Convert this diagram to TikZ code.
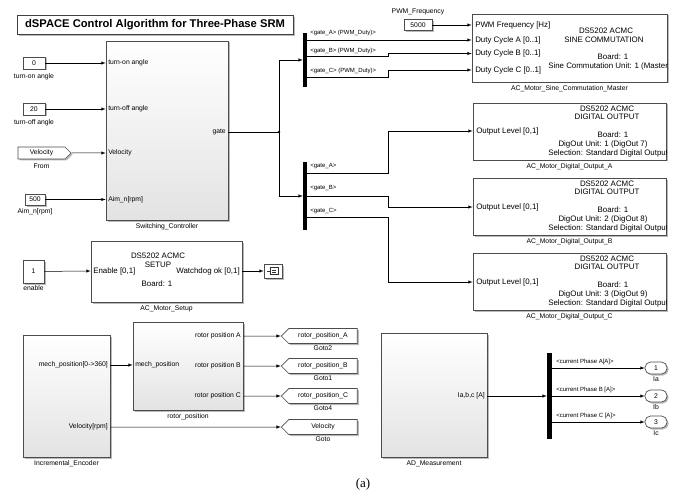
\documentclass[tikz,border=0pt]{standalone}
\usepackage{fontspec}
\setmainfont{Liberation Serif}
\setsansfont{Liberation Sans}
\usepackage{tikz}
\usetikzlibrary{positioning}
\usetikzlibrary{shapes.symbols,shadows}

\newcommand{\lbl}{\sffamily\fontsize{6.8}{7.8}\selectfont}
\newcommand{\dsf}{\sffamily\fontsize{7.9}{9}\selectfont}
\newcommand{\busf}{\sffamily\fontsize{6}{7}\selectfont}

\begin{document}
\begin{tikzpicture}[x=1pt, y=-1pt, >=latex, line width=0.5pt,
    every node/.style = {inner sep=1pt, font=\lbl},
    blk/.style = {draw=gray!60!black, fill=white, line width=0.7pt,
      drop shadow={shadow xshift=1.5pt, shadow yshift=-1.5pt, fill=gray!55, opacity=1}},
    sub/.style = {blk, top color=white, bottom color=gray!22},
    const/.style = {blk, minimum width=22pt, minimum height=12pt},
    bus/.style = {fill=black, minimum width=4pt, inner sep=0pt},
    goto/.style = {blk, signal, signal to=west, minimum width=76pt, minimum height=15pt, inner sep=2pt},
    outp/.style = {blk, rounded corners=5.5pt, minimum width=22pt, minimum height=12pt}
    ]
    \useasboundingbox (0,0) rectangle (679,497);

    \node (title) [blk, draw=gray!50!black, line width=1pt, minimum width=276pt, minimum height=19pt,
      font=\sffamily\bfseries\fontsize{11.2}{13}\selectfont] at (155,25) {dSPACE Control Algorithm for Three-Phase SRM};

    \node (sw) [sub, minimum width=122pt, minimum height=179pt] at (167,130.5) {};
    \node (sw name) [below=2pt of sw] {Switching\_Controller};
    \node (sw on) [anchor=west] at (107,63) {turn-on angle};
    \node (sw off) [anchor=west] at (107,109) {turn-off angle};
    \node (sw vel) [anchor=west] at (107,153) {Velocity};
    \node (sw aim) [anchor=west] at (107,199.5) {Aim\_n[rpm]};
    \node (sw gate) [anchor=east] at (227,132) {gate};

    \node (c on) [const] at (34,63) {0};
    \node (c on name) [below=3pt of c on] {turn-on angle};
    \node (c off) [const] at (34,109) {20};
    \node (c off name) [below=3pt of c off] {turn-off angle};
    \node (from vel) [blk, signal, signal to=east, minimum width=53pt, minimum height=12pt] at (41.5,153) {Velocity};
    \node (from name) [below=3pt of from vel] {From};
    \node (c aim) [const, minimum width=20pt, minimum height=11pt] at (35,199.5) {500};
    \node (c aim name) [below=2pt of c aim] {Aim\_n[rpm]};

    \draw[->] (c on) -- (c on -| sw.west);
    \draw[->] (c off) -- (c off -| sw.west);
    \draw[->] (from vel) -- (from vel -| sw.west);
    \draw[->] (c aim) -- (c aim -| sw.west);

    \node (bus1) [bus, minimum height=54pt] at (305,60) {};
    \node (bus2) [bus, minimum height=67pt] at (305,196) {};
    \coordinate (j1) at (279,132);
    \draw (sw.east |- sw gate) -- (j1);
    \fill (j1) circle (1.3pt);
    \draw[->] (j1) |- (bus1);
    \draw[->] (j1) |- (bus2);

    \node (sine) [blk, minimum width=195pt, minimum height=68pt] at (569.5,48) {};
    \node (sine name) [below=2pt of sine] {AC\_Motor\_Sine\_Commutation\_Master};
    \node (s pwm) [anchor=west, font=\dsf] at (474,25) {PWM Frequency [Hz]};
    \node (s a) [anchor=west, font=\dsf] at (474,40) {Duty Cycle A [0..1]};
    \node (s b) [anchor=west, font=\dsf] at (474,53.5) {Duty Cycle B [0..1]};
    \node (s c) [anchor=west, font=\dsf] at (474,70) {Duty Cycle C [0..1]};
    \node (s t1) [font=\dsf] at (606,31) {DS5202 ACMC};
    \node (s t2) [font=\dsf] at (604,39.5) {SINE COMMUTATION};
    \node (s t3) [font=\dsf] at (613,57) {Board: 1};
    \begin{scope}
      \clip (sine.south west) rectangle (sine.north east);
      \node (s t4) [anchor=west, font=\dsf] at (547,66) {Sine Commutation Unit: 1 (Master)};
    \end{scope}

    \node (c pwm) [const, minimum width=28pt, minimum height=11pt] at (418,25) {5000};
    \node (c pwm name) [above=3pt of c pwm] {PWM\_Frequency};
    \draw[->] (c pwm) -- (sine.west |- s pwm);

    \coordinate (k) at (388,0);
    \coordinate (b1a) at (307,40);
    \coordinate (b1b) at (307,56);
    \coordinate (b1c) at (307,77);
    \node (l1a) [anchor=west, font=\busf] at (309,33) {<gate\_A> (PWM\_Duty)>};
    \node (l1b) [anchor=west, font=\busf] at (309,51) {<gate\_B> (PWM\_Duty)>};
    \node (l1c) [anchor=west, font=\busf] at (309,71) {<gate\_C> (PWM\_Duty)>};
    \draw[->] (b1a) -- (sine.west |- s a);
    \draw[->] (b1b) -- (b1b -| k) |- (sine.west |- s b);
    \draw[->] (b1c) -- (b1c -| k) |- (sine.west |- s c);

    \node (doa) [blk, minimum width=193pt, minimum height=57pt] at (569.5,131.5) {};
    \node (doa name) [below=2pt of doa] {AC\_Motor\_Digital\_Output\_A};
    \node (doa in) [anchor=west, font=\dsf] at (475,131) {Output Level [0,1]};
    \node (doa t1) [font=\dsf] at (607,109) {DS5202 ACMC};
    \node (doa t2) [font=\dsf] at (607,117) {DIGITAL OUTPUT};
    \node (doa t3) [font=\dsf] at (613,135) {Board: 1};
    \node (doa t4) [font=\dsf] at (603,144) {DigOut Unit: 1 (DigOut 7)};
    \begin{scope}
      \clip (doa.south west) rectangle (doa.north east);
      \node (doa t5) [anchor=west, font=\dsf] at (547,153) {Selection: Standard Digital Output};
    \end{scope}

    \node (dob) [blk, minimum width=193pt, minimum height=57pt] at (569.5,206.5) {};
    \node (dob name) [below=2pt of dob] {AC\_Motor\_Digital\_Output\_B};
    \node (dob in) [anchor=west, font=\dsf] at (475,207) {Output Level [0,1]};
    \node (dob t1) [font=\dsf] at (607,184) {DS5202 ACMC};
    \node (dob t2) [font=\dsf] at (607,192) {DIGITAL OUTPUT};
    \node (dob t3) [font=\dsf] at (613,210) {Board: 1};
    \node (dob t4) [font=\dsf] at (603,219) {DigOut Unit: 2 (DigOut 8)};
    \begin{scope}
      \clip (dob.south west) rectangle (dob.north east);
      \node (dob t5) [anchor=west, font=\dsf] at (547,228) {Selection: Standard Digital Output};
    \end{scope}

    \node (doc) [blk, minimum width=193pt, minimum height=57pt] at (569.5,281.5) {};
    \node (doc name) [below=2pt of doc] {AC\_Motor\_Digital\_Output\_C};
    \node (doc in) [anchor=west, font=\dsf] at (475,282) {Output Level [0,1]};
    \node (doc t1) [font=\dsf] at (607,259) {DS5202 ACMC};
    \node (doc t2) [font=\dsf] at (607,267) {DIGITAL OUTPUT};
    \node (doc t3) [font=\dsf] at (613,285) {Board: 1};
    \node (doc t4) [font=\dsf] at (603,294) {DigOut Unit: 3 (DigOut 9)};
    \begin{scope}
      \clip (doc.south west) rectangle (doc.north east);
      \node (doc t5) [anchor=west, font=\dsf] at (547,303) {Selection: Standard Digital Output};
    \end{scope}

    \coordinate (b2a) at (307,173);
    \coordinate (b2b) at (307,196);
    \coordinate (b2c) at (307,217);
    \node (l2a) [anchor=west, font=\busf] at (309,166) {<gate\_A>};
    \node (l2b) [anchor=west, font=\busf] at (309,188.5) {<gate\_B>};
    \node (l2c) [anchor=west, font=\busf] at (309,211) {<gate\_C>};
    \draw[->] (b2a) -- (b2a -| k) |- (doa.west |- doa in);
    \draw[->] (b2b) -- (b2b -| k) |- (dob.west |- dob in);
    \draw[->] (b2c) -- (b2c -| k) |- (doc.west |- doc in);

    \node (setup) [blk, minimum width=151pt, minimum height=61pt] at (166.5,271.5) {};
    \node (setup name) [below=2pt of setup] {AC\_Motor\_Setup};
    \node (setup en) [anchor=west, font=\dsf] at (92,271) {Enable [0,1]};
    \node (setup wd) [anchor=east, font=\dsf] at (241,271) {Watchdog ok [0,1]};
    \node (setup t1) [font=\dsf] at (158,256) {DS5202 ACMC};
    \node (setup t2) [font=\dsf] at (158,264.5) {SETUP};
    \node (setup t3) [font=\dsf] at (157,284) {Board: 1};
    \node (c en) [const, minimum width=21pt, minimum height=23pt] at (33.5,271.5) {1};
    \node (c en name) [below=1pt of c en] {enable};
    \node (term) [blk, minimum width=18pt, minimum height=14pt] at (273,271) {};
    \draw[->] (c en) -- (setup.west |- setup en);
    \draw[->] (setup.east |- setup wd) -- (term);
    \draw[gray!40!black] ([xshift=-6pt]term.center) -- ([xshift=-3pt]term.center);
    \draw[gray!40!black] ([xshift=-3pt,yshift=-3.5pt]term.center) rectangle ([xshift=5pt,yshift=3.5pt]term.center);
    \draw[gray!40!black] ([xshift=-1pt,yshift=1.2pt]term.center) -- ([xshift=3pt,yshift=1.2pt]term.center);
    \draw[gray!40!black] ([xshift=-1pt,yshift=-1.2pt]term.center) -- ([xshift=3pt,yshift=-1.2pt]term.center);

    \node (enc) [sub, minimum width=87pt, minimum height=122pt] at (66.5,396) {};
    \node (enc name) [below=2pt of enc] {Incremental\_Encoder};
    \node (enc pos) [anchor=east] at (109,365) {mech\_position[0->360]};
    \node (enc vel) [anchor=east] at (109,427) {Velocity[rpm]};

    \node (rot) [sub, minimum width=110pt, minimum height=88pt] at (188,366) {};
    \node (rot name) [below=2pt of rot] {rotor\_position};
    \node (rot in) [anchor=west] at (134,365) {mech\_position};
    \node (rot a) [anchor=east] at (242,336) {rotor position A};
    \node (rot b) [anchor=east] at (242,366) {rotor position B};
    \node (rot c) [anchor=east] at (242,396) {rotor position C};
    \draw[->] (enc.east |- enc pos) -- (rot.west |- rot in);

    \node (goto a) [goto] at (323,336) {rotor\_position\_A};
    \node (goto a name) [below=1pt of goto a] {Goto2};
    \node (goto b) [goto] at (323,366) {rotor\_position\_B};
    \node (goto b name) [below=1pt of goto b] {Goto1};
    \node (goto c) [goto] at (323,396) {rotor\_position\_C};
    \node (goto c name) [below=1pt of goto c] {Goto4};
    \node (goto v) [goto] at (323,427) {Velocity};
    \node (goto v name) [below=1pt of goto v] {Goto};
    \draw[->] (rot.east |- rot a) -- (goto a);
    \draw[->] (rot.east |- rot b) -- (goto b);
    \draw[->] (rot.east |- rot c) -- (goto c);
    \draw[->] (enc.east |- enc vel) -- (goto v);

    \node (ad) [sub, minimum width=106pt, minimum height=124pt] at (434,395) {};
    \node (ad name) [below=2pt of ad] {AD\_Measurement};
    \node (ad out) [anchor=east] at (486,396) {Ia,b,c [A]};
    \node (bus3) [bus, minimum width=5pt, minimum height=86pt] at (549.5,396) {};
    \draw[->] (ad.east |- ad out) -- (bus3);

    \coordinate (b3a) at (552,368);
    \coordinate (b3b) at (552,396);
    \coordinate (b3c) at (552,422);
    \node (l3a) [anchor=west, font=\busf] at (555,362) {<current Phase A[A]>};
    \node (l3b) [anchor=west, font=\busf] at (555,389.5) {<current Phase B [A]>};
    \node (l3c) [anchor=west, font=\busf] at (555,415.5) {<current Phase C [A]>};
    \node (out1) [outp] at (656,368) {1};
    \node (out1 name) [below=1pt of out1] {Ia};
    \node (out2) [outp] at (656,396) {2};
    \node (out2 name) [below=1pt of out2] {Ib};
    \node (out3) [outp] at (656,422) {3};
    \node (out3 name) [below=1pt of out3] {Ic};
    \draw[->] (b3a) -- (out1);
    \draw[->] (b3b) -- (out2);
    \draw[->] (b3c) -- (out3);

    \node (cap) [font=\rmfamily\fontsize{13}{15}\selectfont] at (363,484) {(a)};
\end{tikzpicture}
\end{document}
